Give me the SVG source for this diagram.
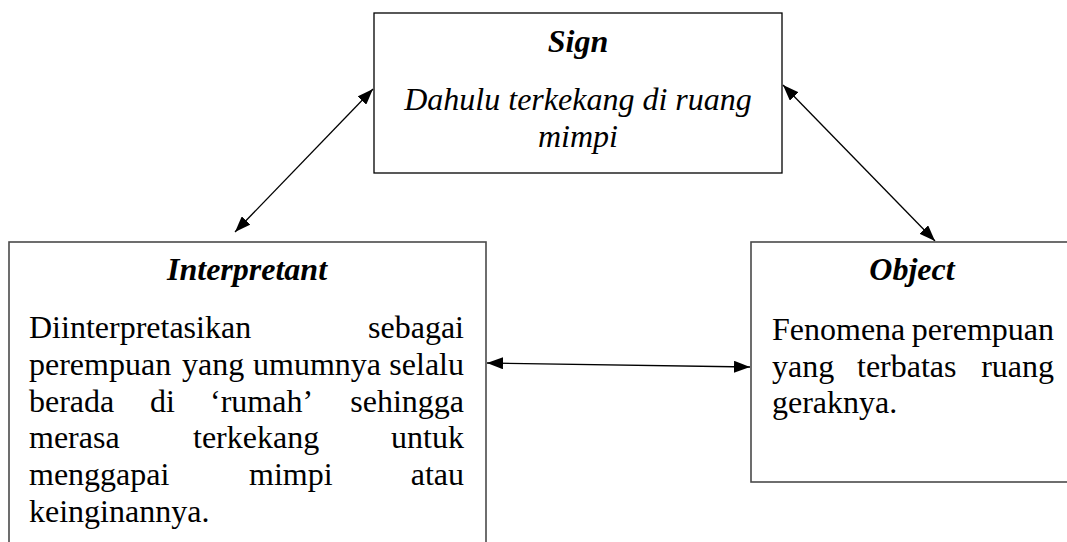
<svg xmlns="http://www.w3.org/2000/svg" width="1067" height="542" viewBox="0 0 1067 542">
<style>
.box{fill:#fff;stroke:#000;stroke-width:1.3}
.box2{fill:#fff;stroke:#4a4a4a;stroke-width:1.6}
.t{font-family:"Liberation Serif","Times New Roman",serif;font-size:32px;fill:#000}
.h{font-weight:bold;font-style:italic;text-anchor:middle}
.i{font-style:italic}
.c{text-anchor:middle}
.e{text-anchor:end}
.con{stroke:#000;stroke-width:1.3;fill:none;marker-start:url(#ah);marker-end:url(#ah)}
</style>
<defs>
<marker id="ah" viewBox="0 0 16 12" refX="16" refY="6" markerWidth="16" markerHeight="12" markerUnits="userSpaceOnUse" orient="auto-start-reverse">
<path d="M0,0 L16,6 L0,12 Z" fill="#000"/>
</marker>
</defs>
<rect width="1067" height="542" fill="#fff"/>
<g id="connectors">
<line class="con" x1="373" y1="89" x2="235" y2="232"/>
<line class="con" x1="783" y1="85" x2="935" y2="241"/>
<line class="con" x1="487" y1="363" x2="750" y2="367"/>
</g>
<g id="sign">
<rect class="box" x="374" y="13" width="408" height="160"/>
<text class="t h" x="578" y="52">Sign</text>
<text class="t i c" x="578" y="110">Dahulu terkekang di ruang</text>
<text class="t i c" x="578" y="147">mimpi</text>
</g>
<g id="interpretant">
<rect class="box2" x="9" y="242" width="477" height="320"/>
<text class="t h" x="247" y="280">Interpretant</text>
<text class="t" x="29" y="338">Diinterpretasikan</text>
<text class="t e" x="464" y="338">sebagai</text>
<text class="t" x="29" y="375">perempuan</text>
<text class="t" x="182" y="375">yang</text>
<text class="t" x="253" y="375">umumnya</text>
<text class="t e" x="464" y="375">selalu</text>
<text class="t" x="29" y="412">berada</text>
<text class="t" x="150" y="412">di</text>
<text class="t" x="210" y="412">‘rumah’</text>
<text class="t e" x="464" y="412">sehingga</text>
<text class="t" x="29" y="448">merasa</text>
<text class="t" x="193" y="448">terkekang</text>
<text class="t e" x="464" y="448">untuk</text>
<text class="t" x="29" y="485">menggapai</text>
<text class="t" x="249" y="485">mimpi</text>
<text class="t e" x="464" y="485">atau</text>
<text class="t" x="29" y="522">keinginannya.</text>
</g>
<g id="object">
<rect class="box2" x="751" y="242" width="340" height="240"/>
<text class="t h" x="912" y="280">Object</text>
<text class="t" x="772" y="340">Fenomena</text>
<text class="t e" x="1054" y="340">perempuan</text>
<text class="t" x="772" y="377">yang</text>
<text class="t" x="857" y="377">terbatas</text>
<text class="t e" x="1054" y="377">ruang</text>
<text class="t" x="772" y="413">geraknya.</text>
</g>
</svg>
